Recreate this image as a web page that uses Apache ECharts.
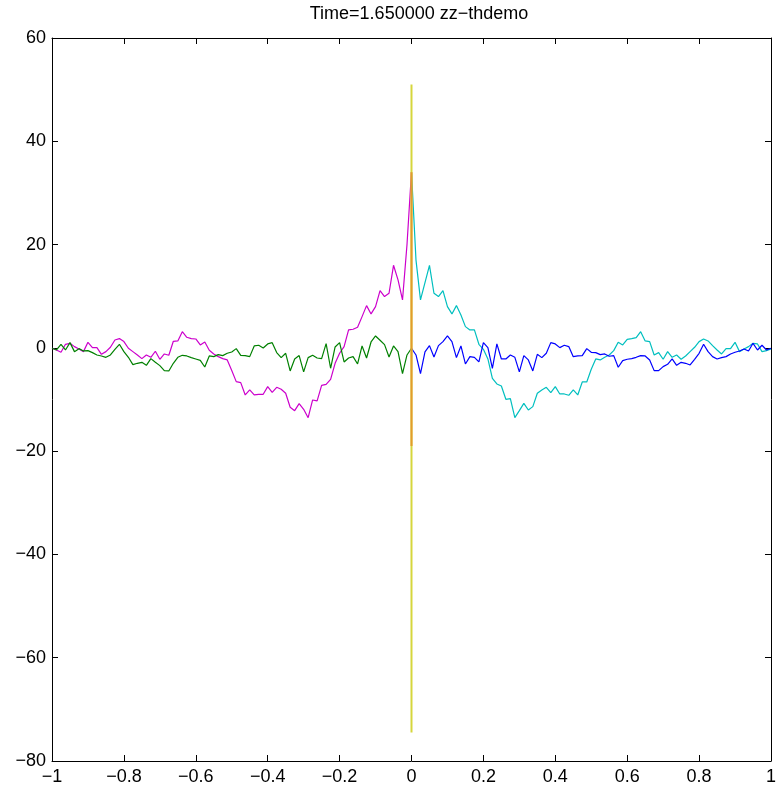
<!DOCTYPE html>
<html>
<head>
<meta charset="utf-8">
<title>zz-thdemo</title>
<script src="https://cdn.jsdelivr.net/npm/echarts@6/dist/echarts.min.js"></script>
<style>
html, body { margin: 0; padding: 0; background: #fff; }
#chart { width: 779px; height: 793px; }
</style>
</head>
<body>
<div id="chart"></div>
<script>
// sample grid: 81 points on each side, spacing 0.0125
var step = 0.0125;

// left half (x = -1 .. 0)
var magenta = [-0.08, -0.41, -0.86, 0.69, 0.88, 0.24, -0.21, -0.73, 1.08, 0.05, 0.05, -1.25, -0.73, 0.11, 1.53, 1.79, 1.21, -0.08, -0.73, -1.38,
	-2.09, -1.38, -1.83, -0.66, -2.21, -1.18, -1.44, 1.27, 1.34, 3.14, 2.05, 1.79, 1.72, 0.56, 1.14, -0.47, -1.18, -1.70, -2.09, -2.34,
	-4.4, -6.54, -6.73, -9.12, -8.15, -9.12, -8.99, -8.99, -7.51, -8.61, -7.64, -8.02, -8.80, -11.51, -12.16, -10.80, -11.90, -13.52, -10.09, -10.28,
	-7.25, -7.06, -6.09, -2.99, -1.05, 0.24, 3.47, 3.60, 3.99, 6.05, 8.18, 6.57, 7.99, 11.09, 9.93, 10.57, 15.99, 13.15, 9.28, 20.0, 34.1];
var green = [-0.08, -0.41, 0.69, -0.41, 1.01, -0.73, -0.15, -0.60, -0.54, -0.92, -1.38, -1.57, -1.83, -1.38, -0.28, 0.69, -0.73, -1.83, -3.25, -2.99,
	-2.80, -3.38, -2.09, -2.80, -3.44, -4.41, -4.47, -2.99, -1.83, -1.44, -1.57, -1.89, -2.15, -2.41, -3.70, -1.57, -1.70, -1.31, -1.50, -1.05,
	-0.8, -0.15, -1.44, -1.50, -1.70, 0.37, 0.50, -0.02, 0.76, 1.01, -0.92, -1.89, -1.05, -4.47, -2.15, -1.50, -4.66, -1.89, -1.44, -1.96,
	-2.09, 0.82, -3.95, 0.17, 1.01, -2.73, -1.96, -1.70, -3.12, 0.37, -1.96, 1.14, 2.30, 1.47, 0.63, -1.76, 0.37, -0.73, -4.99, -1.38, -0.08];

// right half (x = 0 .. 1)
var cyan = [34.1, 17.0, 9.28, 12.64, 15.99, 10.57, 9.93, 11.09, 7.99, 6.57, 8.18, 6.37, 4.11, 3.47, 3.47, 0.69, -0.28, -2.15, -5.89, -6.99,
	-7.38, -9.96, -9.83, -13.52, -12.16, -10.74, -12.03, -11.38, -8.80, -8.15, -7.64, -8.67, -7.51, -8.93, -8.93, -9.18, -8.15, -9.12, -6.60, -6.60,
	-4.15, -2.15, -2.34, -1.83, -1.38, -0.54, 1.08, 0.56, 1.66, 1.79, 1.98, 3.14, 1.34, 1.21, -1.38, -0.92, -2.21, -0.73, -1.83, -1.38,
	-2.21, -1.57, -0.73, 0.11, 1.21, 1.72, 1.34, 0.43, -0.41, -1.18, -0.15, -0.15, 1.08, -0.73, -0.21, 0.24, 0.88, 0.76, -0.73, -0.54, -0.21];
var blue = [-0.08, -1.38, -4.99, -0.79, 0.43, -1.76, 0.43, 1.21, 2.30, 1.21, -1.89, 0.37, -3.12, -1.70, -1.83, -2.73, 1.01, 0.05, -3.96, 0.76,
	-2.15, -2.15, -1.38, -1.83, -4.66, -1.50, -2.34, -4.47, -1.25, -1.89, -1.05, 1.01, 0.76, 0.05, 0.50, 0.24, -1.70, -1.57, -1.50, -0.15,
	-0.86, -0.92, -1.31, -1.18, -1.63, -1.50, -3.76, -2.47, -2.21, -2.09, -1.83, -1.50, -1.57, -2.34, -4.41, -4.41, -3.63, -3.18, -2.15, -3.38,
	-2.80, -2.99, -3.31, -2.21, -1.05, 0.69, -0.73, -1.70, -2.15, -1.89, -1.70, -1.18, -0.86, -0.60, -0.21, -0.60, 0.88, -0.41, 0.50, -0.41, -0.08];

// vertical spikes at x = 0 (y from, y to)
var spikeYellow = [-74.5, 51];
var spikeOrange = [-19, 34];

var xTicks = [-1, -0.8, -0.6, -0.4, -0.2, 0, 0.2, 0.4, 0.6, 0.8, 1];
var yTicks = [-80, -60, -40, -20, 0, 20, 40, 60];

function pairs(vals, x0) {
	return vals.map(function(v, i) { return [x0 + i * step, v]; });
}
function minusFmt(v) {
	return String(+(+v).toFixed(1)).replace('-', '\u2212');
}

var chart = echarts.init(document.getElementById('chart'), null, { renderer: 'canvas' });
var font = 'Liberation Sans, Arial, Helvetica, sans-serif';

var axisCommon = {
	type: 'value',
	axisLine: { show: true, onZero: false, lineStyle: { color: '#000', width: 1 } },
	axisTick: { show: true, inside: true, length: 6, lineStyle: { color: '#000' } },
	splitLine: { show: false }
};

function line(name, data, color, width) {
	return {
		name: name, type: 'line', data: data, showSymbol: false, symbol: 'none',
		lineStyle: { color: color, width: width || 1.2 }, itemStyle: { color: color },
		animation: false, silent: true
	};
}

var option = {
	backgroundColor: '#fff',
	animation: false,
	title: {
		text: 'Time=1.650000 zz\u2212thdemo',
		left: 414, top: 0, textAlign: 'center',
		textStyle: { fontFamily: font, fontSize: 18, fontWeight: 'normal', color: '#000' }
	},
	grid: { left: 52, right: 4, top: 38, bottom: 32 },
	xAxis: [
		Object.assign({}, axisCommon, {
			position: 'bottom', min: xTicks[0], max: xTicks[xTicks.length - 1], interval: 0.2,
			axisLabel: { margin: 7, fontFamily: font, fontSize: 18, color: '#000', formatter: minusFmt }
		}),
		Object.assign({}, axisCommon, {
			position: 'top', min: xTicks[0], max: xTicks[xTicks.length - 1], interval: 0.2,
			axisLabel: { show: false }
		})
	],
	yAxis: [
		Object.assign({}, axisCommon, {
			position: 'left', min: yTicks[0], max: yTicks[yTicks.length - 1], interval: 20,
			axisLabel: { margin: 6, fontFamily: font, fontSize: 18, color: '#000', formatter: minusFmt }
		}),
		Object.assign({}, axisCommon, {
			position: 'right', min: yTicks[0], max: yTicks[yTicks.length - 1], interval: 20,
			axisLabel: { show: false }
		})
	],
	series: [
		line('magenta', pairs(magenta, -1), '#cc00cc'),
		line('green', pairs(green, -1), '#008000'),
		line('cyan', pairs(cyan, 0), '#00bfbf'),
		line('blue', pairs(blue, 0), '#0000ff'),
		line('yellow', [[0, spikeYellow[0]], [0, spikeYellow[1]]], '#d6d63c', 2),
		line('orange', [[0, spikeOrange[0]], [0, spikeOrange[1]]], '#e39b2c', 2)
	]
};

chart.setOption(option);
window.onresize = function() {
	chart.resize();
};
</script>
</body>
</html>
